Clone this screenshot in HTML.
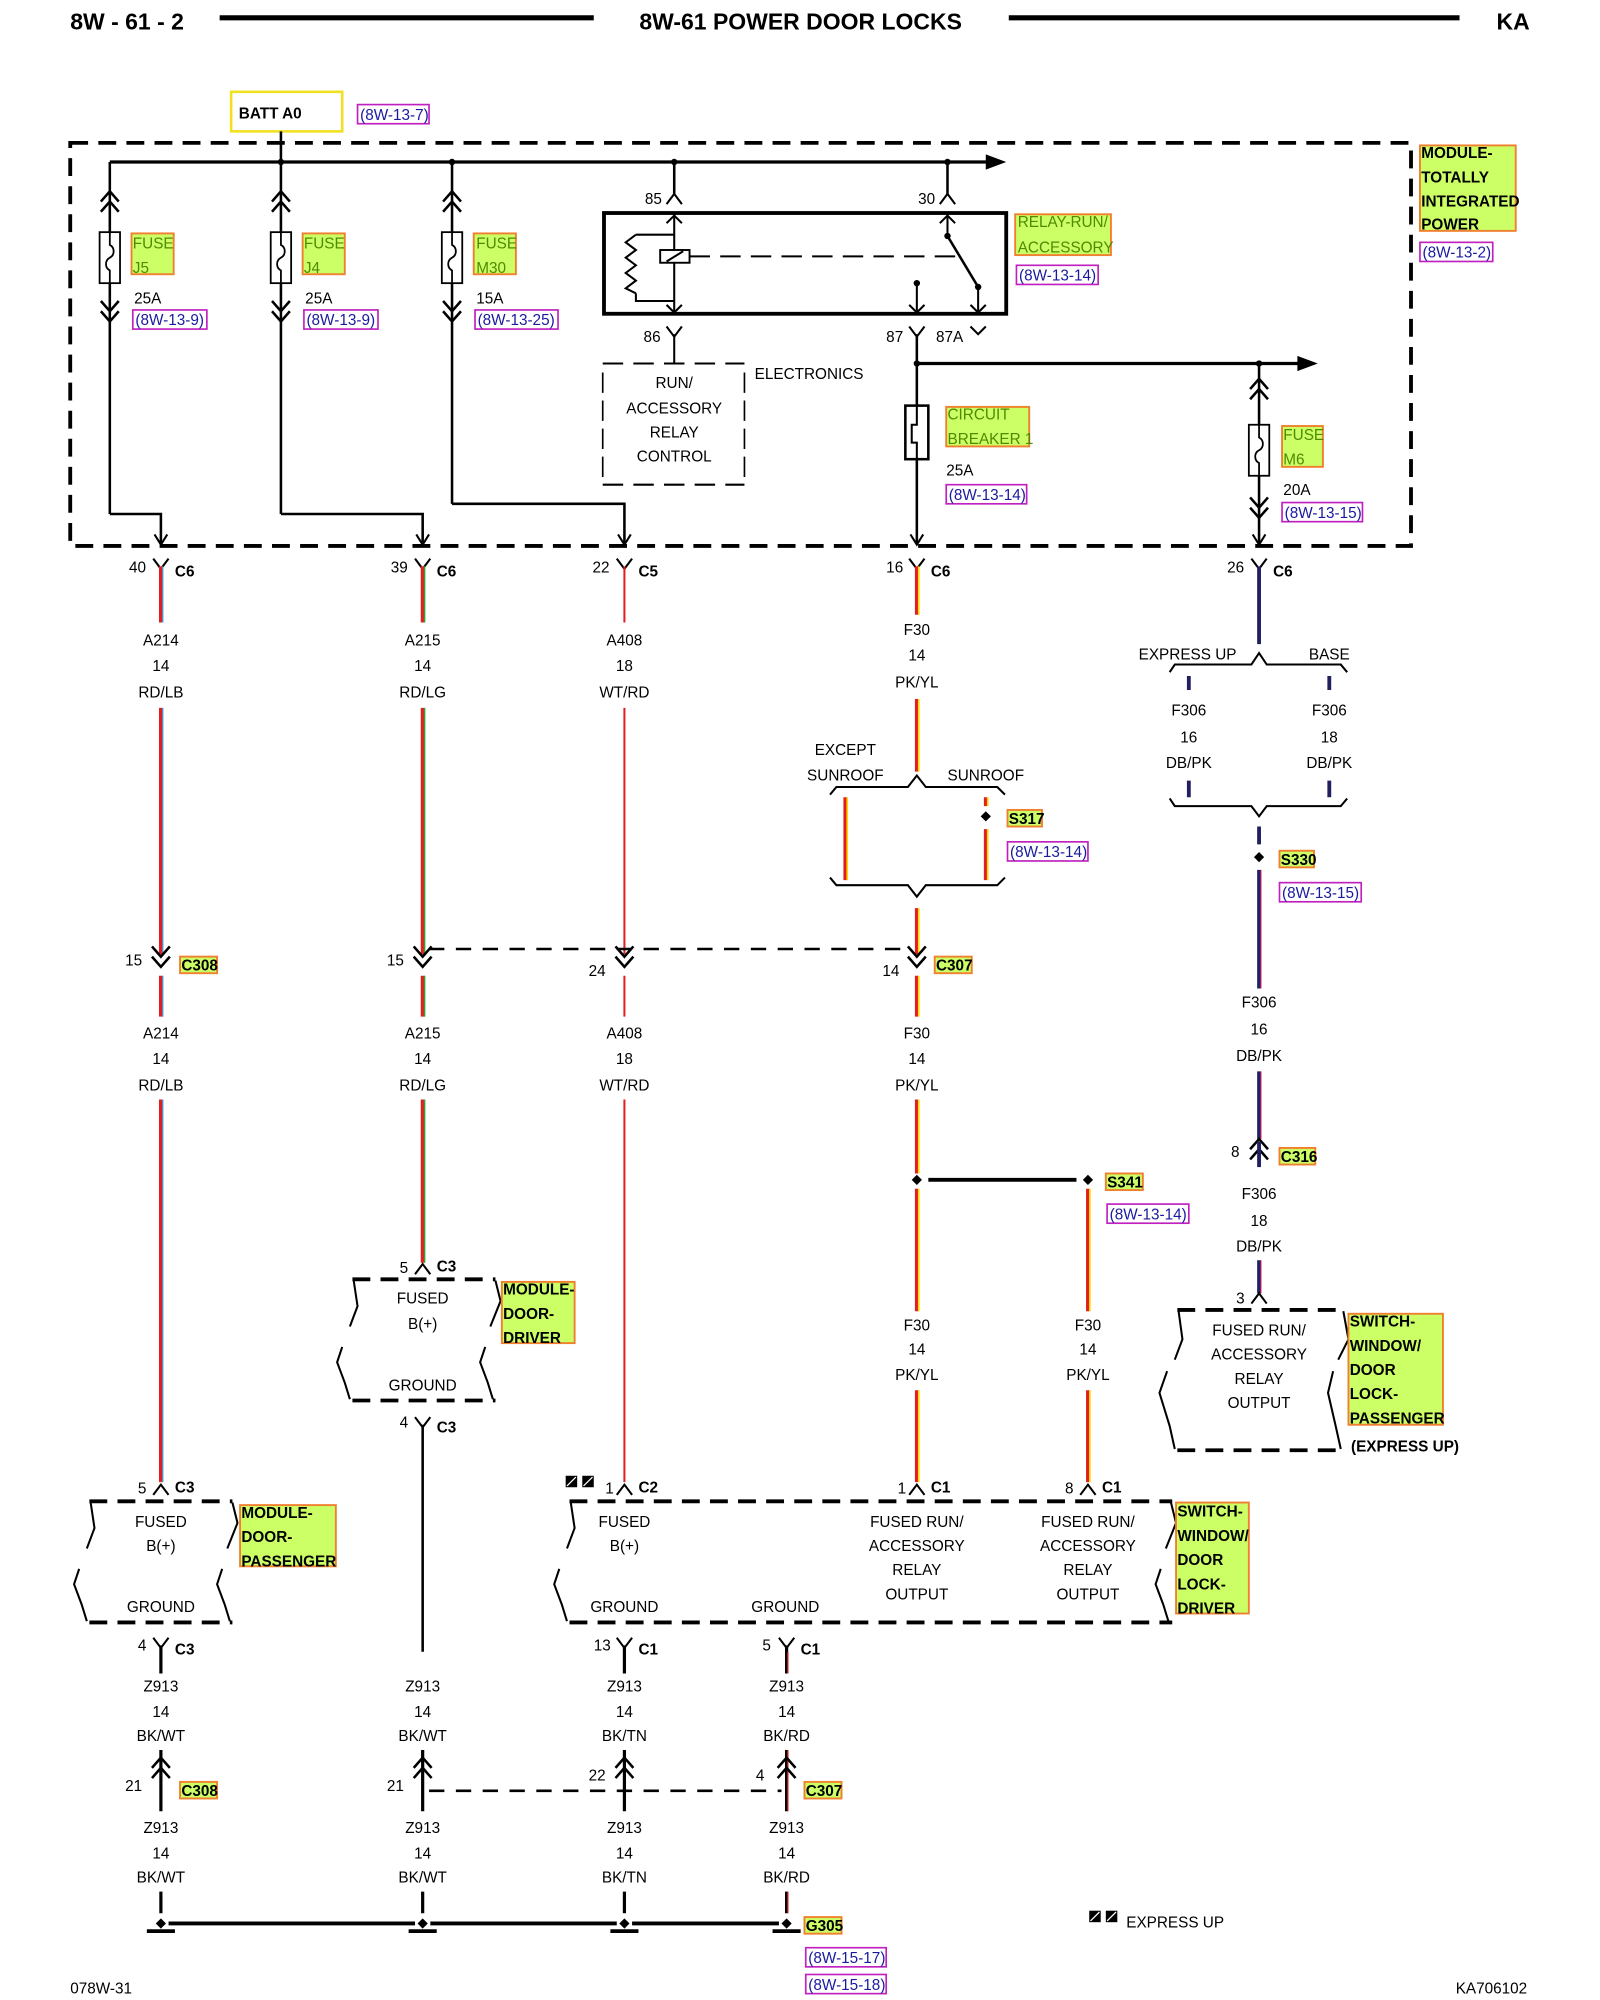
<!DOCTYPE html>
<html><head><meta charset="utf-8"><style>
html,body{margin:0;padding:0;background:#fff}
svg{display:block}
text{font-family:"Liberation Sans",Arial,sans-serif;font-size:12px;fill:#000}
.c{text-anchor:middle}
.b{font-weight:bold}
.h{font-weight:bold;font-size:18px}
.lb{font-weight:bold;font-size:12px}
.ref{fill:#1a1aa0;font-size:12px}
.fl{fill:#4f8a00;font-size:12px}
.w{stroke:#000;stroke-width:2;fill:none}
.t{stroke:#000;stroke-width:1.6;fill:none}
.d{stroke:#000;stroke-width:3;fill:none;stroke-dasharray:14 8}
.ds{stroke:#000;stroke-width:1.6;fill:none;stroke-dasharray:16 8}
.hl{fill:#ccff66;stroke:#f08030;stroke-width:1.5}
.rb{fill:none;stroke:#c020c0;stroke-width:1.3}
</style></head><body>
<svg width="1600" height="2000" viewBox="0 0 1253 1568" preserveAspectRatio="none" xmlns="http://www.w3.org/2000/svg">
<defs>
<path id="Y" d="M-6,-6 L0,2 L6,-6" stroke="#000" stroke-width="1.6" fill="none"/>
<path id="car" d="M-6,6 L0,-2 L6,6" stroke="#000" stroke-width="1.6" fill="none"/>
<g id="vv" stroke="#000" stroke-width="2" fill="none"><path d="M-7,-10 L0,-2 L7,-10"/><path d="M-7,-2 L0,6 L7,-2"/></g>
<g id="uu" stroke="#000" stroke-width="2" fill="none"><path d="M-7,-2 L0,-10 L7,-2"/><path d="M-7,6 L0,-2 L7,6"/></g>
<g id="fu"><rect x="-8" y="0" width="16" height="40" fill="#fff" stroke="#000" stroke-width="1.4"/><path d="M0,0 L0,10 C4,12 4,18 0,20 C-4,22 -4,28 0,30 L0,40" stroke="#000" stroke-width="1.4" fill="none"/></g>
<path id="dia" d="M0,-4 L4,0 L0,4 L-4,0Z" fill="#000"/>
</defs>

<!-- header -->
<text x="55" y="23" class="h">8W - 61 - 2</text>
<line x1="172" y1="14" x2="465" y2="14" stroke="#000" stroke-width="4"/>
<text x="627" y="23" class="h c">8W-61 POWER DOOR LOCKS</text>
<line x1="790" y1="14" x2="1143" y2="14" stroke="#000" stroke-width="4"/>
<text x="1172" y="23" class="h">KA</text>

<!-- BATT -->
<rect x="181" y="72" width="87" height="31" fill="#fff" stroke="#f0e020" stroke-width="2"/>
<text x="187" y="93" class="lb">BATT A0</text>
<rect x="280" y="82" width="56" height="15" class="rb"/><text x="282" y="94" class="ref">(8W-13-7)</text>

<!-- main dashed box -->
<rect x="55" y="112" width="1050" height="316" class="d"/>
<line x1="220" y1="103" x2="220" y2="127" class="w"/>
<line x1="86" y1="127" x2="775" y2="127" stroke="#000" stroke-width="2.5"/>
<path d="M772,121 L788,127 L772,133Z" fill="#000"/>
<g fill="#000"><circle cx="220" cy="127" r="2.5"/><circle cx="354" cy="127" r="2.5"/><circle cx="528" cy="127" r="2.5"/><circle cx="742" cy="127" r="2.5"/></g>

<!-- fuses -->
<g>
<line x1="86" y1="127" x2="86" y2="403" class="w"/><use href="#uu" x="86" y="160"/><use href="#fu" x="86" y="182"/><use href="#vv" x="86" y="246"/>
<path d="M86,403 H126 V426" class="w"/><path d="M121,419 L126,427 L131,419" class="t"/>
<rect x="103" y="183" width="33" height="32" class="hl"/><text x="104" y="195" class="fl">FUSE</text><text x="104" y="214" class="fl">J5</text>
<text x="105" y="238">25A</text><rect x="104" y="243" width="58" height="15" class="rb"/><text x="106" y="255" class="ref">(8W-13-9)</text>

<line x1="220" y1="127" x2="220" y2="403" class="w"/><use href="#uu" x="220" y="160"/><use href="#fu" x="220" y="182"/><use href="#vv" x="220" y="246"/>
<path d="M220,403 H331 V426" class="w"/><path d="M326,419 L331,427 L336,419" class="t"/>
<rect x="237" y="183" width="33" height="32" class="hl"/><text x="238" y="195" class="fl">FUSE</text><text x="238" y="214" class="fl">J4</text>
<text x="239" y="238">25A</text><rect x="238" y="243" width="58" height="15" class="rb"/><text x="240" y="255" class="ref">(8W-13-9)</text>

<line x1="354" y1="127" x2="354" y2="395" class="w"/><use href="#uu" x="354" y="160"/><use href="#fu" x="354" y="182"/><use href="#vv" x="354" y="246"/>
<path d="M354,395 H489 V426" class="w"/><path d="M484,419 L489,427 L494,419" class="t"/>
<rect x="371" y="183" width="33" height="32" class="hl"/><text x="373" y="195" class="fl">FUSE</text><text x="373" y="214" class="fl">M30</text>
<text x="373" y="238">15A</text><rect x="372" y="243" width="65" height="15" class="rb"/><text x="374" y="255" class="ref">(8W-13-25)</text>
</g>

<!-- relay -->
<line x1="528" y1="127" x2="528" y2="152" class="w"/><use href="#car" x="528" y="154"/><text x="505" y="160">85</text>
<line x1="742" y1="127" x2="742" y2="152" class="w"/><use href="#car" x="742" y="154"/><text x="719" y="160">30</text>
<rect x="473" y="167" width="315" height="79" fill="none" stroke="#000" stroke-width="3"/>
<line x1="528" y1="168" x2="528" y2="245" class="t"/>
<path d="M528,184 H498 M498,184 L490,190 L498,196 L490,202 L498,208 L490,214 L498,220 L490,226 L498,230 M498,230 V236 H528" class="t"/>
<rect x="517" y="196" width="23" height="10" fill="#fff" stroke="#000" stroke-width="1.5"/><line x1="522" y1="205" x2="535" y2="197" class="t"/>
<line x1="540" y1="201" x2="752" y2="201" class="ds" stroke-dasharray="10 7"/>
<path d="M522,175 L528,169 L534,175 M522,239 L528,245 L534,239" class="t"/>
<line x1="742" y1="168" x2="742" y2="185" class="t"/><path d="M736,175 L742,169 L748,175" class="t"/>
<line x1="742" y1="185" x2="766" y2="225" class="w"/><circle cx="742" cy="185" r="2.5"/><circle cx="766" cy="225" r="2.5"/>
<line x1="766" y1="225" x2="766" y2="245" class="t"/><path d="M760,239 L766,245 L772,239" class="t"/>
<line x1="718" y1="222" x2="718" y2="245" class="t"/><circle cx="718" cy="222" r="2.5"/><path d="M712,239 L718,245 L724,239" class="t"/>
<rect x="795" y="168" width="75" height="32" class="hl"/><text x="797" y="178" class="fl">RELAY-RUN/</text><text x="797" y="198" class="fl">ACCESSORY</text>
<rect x="796" y="208" width="64" height="15" class="rb"/><text x="798" y="220" class="ref">(8W-13-14)</text>

<use href="#Y" x="528" y="262"/><line x1="528" y1="262" x2="528" y2="285" class="t"/><text x="504" y="268">86</text>
<use href="#Y" x="718" y="262"/><text x="694" y="268">87</text>
<path d="M760,256 L766,262 L772,256" class="t"/><text x="733" y="268">87A</text>
<!-- run acc control -->
<path d="M472,285 H583 M472,380 H583" class="ds"/>
<path d="M472,292 V375 M583,292 V375" stroke="#000" stroke-width="1.3" stroke-dasharray="16 6" fill="none"/>
<text x="528" y="304" class="c">RUN/</text><text x="528" y="324" class="c">ACCESSORY</text><text x="528" y="343" class="c">RELAY</text><text x="528" y="362" class="c">CONTROL</text>
<text x="591" y="297">ELECTRONICS</text>

<!-- 87 line -->
<line x1="718" y1="262" x2="718" y2="426" class="w"/><path d="M713,419 L718,427 L723,419" class="t"/>
<line x1="718" y1="285" x2="1020" y2="285" stroke="#000" stroke-width="2.5"/><path d="M1016,279 L1032,285 L1016,291Z" fill="#000"/>
<circle cx="718" cy="285" r="2.5"/><circle cx="986" cy="285" r="2.5"/>
<rect x="709" y="318" width="18" height="42" fill="#fff" stroke="#000" stroke-width="2"/><path d="M718,318 V333 H714 V347 H718 V360" class="t"/>
<rect x="741" y="319" width="65" height="31" class="hl"/><text x="742" y="329" class="fl">CIRCUIT</text><text x="742" y="348" class="fl">BREAKER 1</text>
<text x="741" y="373">25A</text><rect x="741" y="380" width="63" height="15" class="rb"/><text x="743" y="392" class="ref">(8W-13-14)</text>
<!-- M6 -->
<line x1="986" y1="285" x2="986" y2="426" class="w"/><use href="#uu" x="986" y="307"/><use href="#fu" x="986" y="333"/><use href="#vv" x="986" y="400"/><path d="M981,419 L986,427 L991,419" class="t"/>
<rect x="1004" y="334" width="32" height="32" class="hl"/><text x="1005" y="345" class="fl">FUSE</text><text x="1005" y="364" class="fl">M6</text>
<text x="1005" y="388">20A</text><rect x="1004" y="394" width="63" height="15" class="rb"/><text x="1006" y="406" class="ref">(8W-13-15)</text>
<!-- module label -->
<rect x="1112" y="114" width="75" height="67" class="hl"/>
<text x="1113" y="124" class="lb">MODULE-</text><text x="1113" y="143" class="lb">TOTALLY</text><text x="1113" y="162" class="lb">INTEGRATED</text><text x="1113" y="180" class="lb">POWER</text>
<rect x="1112" y="190" width="57" height="15" class="rb"/><text x="1114" y="202" class="ref">(8W-13-2)</text>

<!-- C6/C5 connectors -->
<g>
<use href="#Y" x="126" y="444"/><text x="101" y="449">40</text><text x="137" y="452" class="lb">C6</text>
<use href="#Y" x="331" y="444"/><text x="306" y="449">39</text><text x="342" y="452" class="lb">C6</text>
<use href="#Y" x="489" y="444"/><text x="464" y="449">22</text><text x="500" y="452" class="lb">C5</text>
<use href="#Y" x="718" y="444"/><text x="694" y="449">16</text><text x="729" y="452" class="lb">C6</text>
<use href="#Y" x="986" y="444"/><text x="961" y="449">26</text><text x="997" y="452" class="lb">C6</text>
</g>

<!-- wires -->
<g stroke-width="3" fill="none">
<path d="M126,444 V488 M126,555 V748 M126,765 V797 M126,862 V1162" stroke="#e02020"/>
<path d="M127.5,444 V488 M127.5,555 V748 M127.5,765 V797 M127.5,862 V1162" stroke="#40a0e0" stroke-width="1"/>
<path d="M331,444 V488 M331,555 V748 M331,765 V797 M331,862 V990" stroke="#e02020"/>
<path d="M332.5,444 V488 M332.5,555 V748 M332.5,765 V797 M332.5,862 V990" stroke="#30a030" stroke-width="1.2"/>
<path d="M489,444 V488 M489,555 V748 M489,765 V797 M489,862 V1162" stroke="#e02020" stroke-width="1.6"/>
<path d="M718,444 V482 M718,548 V605 M718,712 V748 M718,765 V797 M718,862 V920 M718,932 V1028 M718,1090 V1162" stroke="#e02020"/>
<path d="M719.5,444 V482 M719.5,548 V605 M719.5,712 V748 M719.5,765 V797 M719.5,862 V920 M719.5,932 V1028 M719.5,1090 V1162" stroke="#ffd800" stroke-width="1.3"/>
<path d="M852,932 V1028 M852,1090 V1162" stroke="#e02020"/>
<path d="M853.5,932 V1028 M853.5,1090 V1162" stroke="#ffd800" stroke-width="1.3"/>
<path d="M662,625 V690 M772,625 V632 M772,650 V690" stroke="#e02020"/>
<path d="M663.5,625 V690 M773.5,625 V632 M773.5,650 V690" stroke="#ffd800" stroke-width="1.3"/>
<path d="M986,444 V505 M931,530 V541 M1041,530 V541 M931,612 V625 M1041,612 V625 M986,648 V662 M986,682 V775 M986,840 V893 M986,988 V1014" stroke="#202060"/>
<path d="M987.5,682 V775 M987.5,840 V893 M987.5,988 V1014" stroke="#e02060" stroke-width="0.8"/>
</g>

<!-- wire labels upper -->
<g>
<text x="126" y="506" class="c">A214</text><text x="126" y="526" class="c">14</text><text x="126" y="547" class="c">RD/LB</text>
<text x="331" y="506" class="c">A215</text><text x="331" y="526" class="c">14</text><text x="331" y="547" class="c">RD/LG</text>
<text x="489" y="506" class="c">A408</text><text x="489" y="526" class="c">18</text><text x="489" y="547" class="c">WT/RD</text>
<text x="718" y="498" class="c">F30</text><text x="718" y="518" class="c">14</text><text x="718" y="539" class="c">PK/YL</text>
<text x="126" y="814" class="c">A214</text><text x="126" y="834" class="c">14</text><text x="126" y="855" class="c">RD/LB</text>
<text x="331" y="814" class="c">A215</text><text x="331" y="834" class="c">14</text><text x="331" y="855" class="c">RD/LG</text>
<text x="489" y="814" class="c">A408</text><text x="489" y="834" class="c">18</text><text x="489" y="855" class="c">WT/RD</text>
<text x="718" y="814" class="c">F30</text><text x="718" y="834" class="c">14</text><text x="718" y="855" class="c">PK/YL</text>
</g>

<!-- sunroof brace -->
<text x="662" y="592" class="c">EXCEPT</text><text x="662" y="612" class="c">SUNROOF</text><text x="772" y="612" class="c">SUNROOF</text>
<path d="M650,623 L655,617 H711 L718,608 L725,617 H781 L787,623" class="t"/>
<path d="M650,688 L655,694 H711 L718,703 L725,694 H781 L787,688" class="t"/>
<use href="#dia" x="772" y="640"/>
<rect x="789" y="635" width="27" height="13" class="hl"/><text x="790" y="646" class="lb">S317</text>
<rect x="789" y="660" width="63" height="15" class="rb"/><text x="791" y="672" class="ref">(8W-13-14)</text>

<!-- express up brace -->
<text x="930" y="517" class="c">EXPRESS UP</text><text x="1041" y="517" class="c">BASE</text>
<path d="M916,527 L920,521 H980 L986,512 L992,521 H1050 L1055,527" class="t"/>
<text x="931" y="561" class="c">F306</text><text x="931" y="582" class="c">16</text><text x="931" y="602" class="c">DB/PK</text>
<text x="1041" y="561" class="c">F306</text><text x="1041" y="582" class="c">18</text><text x="1041" y="602" class="c">DB/PK</text>
<path d="M916,626 L920,632 H980 L986,640 L992,632 H1050 L1055,626" class="t"/>
<use href="#dia" x="986" y="672"/>
<rect x="1002" y="667" width="27" height="13" class="hl"/><text x="1003" y="678" class="lb">S330</text>
<rect x="1002" y="692" width="64" height="15" class="rb"/><text x="1004" y="704" class="ref">(8W-13-15)</text>
<text x="986" y="790" class="c">F306</text><text x="986" y="811" class="c">16</text><text x="986" y="832" class="c">DB/PK</text>
<use href="#uu" x="986" y="903"/><line x1="986" y1="895" x2="986" y2="915" stroke="#202060" stroke-width="3"/><text x="964" y="907">8</text>
<rect x="1002" y="900" width="28" height="13" class="hl"/><text x="1003" y="911" class="lb">C316</text>
<text x="986" y="940" class="c">F306</text><text x="986" y="961" class="c">18</text><text x="986" y="981" class="c">DB/PK</text>
<use href="#car" x="986" y="1016"/><text x="968" y="1022">3</text>

<!-- C308 / C307 upper -->
<use href="#vv" x="126" y="752"/><text x="98" y="757">15</text>
<rect x="141" y="750" width="29" height="13" class="hl"/><text x="142" y="761" class="lb">C308</text>
<use href="#vv" x="331" y="752"/><text x="303" y="757">15</text>
<use href="#vv" x="489" y="752"/><text x="461" y="765">24</text>
<use href="#vv" x="718" y="752"/><text x="691" y="765">14</text>
<rect x="732" y="750" width="29" height="13" class="hl"/><text x="733" y="761" class="lb">C307</text>
<line x1="336" y1="744" x2="714" y2="744" stroke="#000" stroke-width="2" stroke-dasharray="12 9"/>

<!-- S341 -->
<use href="#dia" x="718" y="925"/><use href="#dia" x="852" y="925"/>
<line x1="727" y1="925" x2="843" y2="925" stroke="#000" stroke-width="3"/>
<rect x="866" y="920" width="29" height="13" class="hl"/><text x="867" y="931" class="lb">S341</text>
<rect x="867" y="944" width="64" height="15" class="rb"/><text x="869" y="956" class="ref">(8W-13-14)</text>
<text x="718" y="1043" class="c">F30</text><text x="718" y="1062" class="c">14</text><text x="718" y="1082" class="c">PK/YL</text>
<text x="852" y="1043" class="c">F30</text><text x="852" y="1062" class="c">14</text><text x="852" y="1082" class="c">PK/YL</text>

<!-- module door driver -->
<use href="#car" x="331" y="993"/><text x="313" y="998">5</text><text x="342" y="997" class="lb">C3</text>
<path d="M276,1003 H388 M276,1098 H388" class="d"/>
<path d="M277,1004 L280,1024 L274,1040 M268,1056 L264,1068 L270,1084 L274,1097 M388,1004 L392,1020 L384,1040 M380,1056 L376,1068 L382,1084 L386,1097" class="t"/>
<text x="331" y="1022" class="c">FUSED</text><text x="331" y="1042" class="c">B(+)</text><text x="331" y="1090" class="c">GROUND</text>
<rect x="393" y="1005" width="57" height="48" class="hl"/><text x="394" y="1015" class="lb">MODULE-</text><text x="394" y="1034" class="lb">DOOR-</text><text x="394" y="1053" class="lb">DRIVER</text>
<use href="#Y" x="331" y="1117"/><text x="313" y="1119">4</text><text x="342" y="1123" class="lb">C3</text>
<line x1="331" y1="1117" x2="331" y2="1295" class="w"/>

<!-- switch window door lock passenger -->
<path d="M922,1027 H1052 M922,1137 H1052" class="d"/>
<path d="M923,1028 L926,1050 L920,1066 M914,1075 L908,1092 L916,1118 L920,1136 M1052,1028 L1056,1050 L1048,1066 M1044,1075 L1040,1092 L1046,1118 L1050,1136" class="t"/>
<text x="986" y="1047" class="c">FUSED RUN/</text><text x="986" y="1066" class="c">ACCESSORY</text><text x="986" y="1085" class="c">RELAY</text><text x="986" y="1104" class="c">OUTPUT</text>
<rect x="1056" y="1030" width="74" height="87" class="hl"/>
<text x="1057" y="1040" class="lb">SWITCH-</text><text x="1057" y="1059" class="lb">WINDOW/</text><text x="1057" y="1078" class="lb">DOOR</text><text x="1057" y="1097" class="lb">LOCK-</text><text x="1057" y="1116" class="lb">PASSENGER</text>
<text x="1058" y="1138" class="lb">(EXPRESS UP)</text>

<!-- module door passenger -->
<use href="#car" x="126" y="1166"/><text x="108" y="1171">5</text><text x="137" y="1170" class="lb">C3</text>
<path d="M70,1177 H182 M70,1272 H182" class="d"/>
<path d="M71,1178 L74,1198 L68,1214 M62,1230 L58,1242 L64,1258 L68,1271 M182,1178 L186,1194 L178,1214 M174,1230 L170,1242 L176,1258 L180,1271" class="t"/>
<text x="126" y="1197" class="c">FUSED</text><text x="126" y="1216" class="c">B(+)</text><text x="126" y="1264" class="c">GROUND</text>
<rect x="188" y="1180" width="75" height="48" class="hl"/><text x="189" y="1190" class="lb">MODULE-</text><text x="189" y="1209" class="lb">DOOR-</text><text x="189" y="1228" class="lb">PASSENGER</text>

<!-- switch window door lock driver -->
<rect x="443" y="1157" width="9" height="9" fill="#000"/><rect x="456" y="1157" width="9" height="9" fill="#000"/>
<path d="M444,1165 L451,1158 M457,1165 L464,1158" stroke="#fff" stroke-width="1"/>
<use href="#car" x="489" y="1166"/><text x="474" y="1171">1</text><text x="500" y="1170" class="lb">C2</text>
<use href="#car" x="718" y="1166"/><text x="703" y="1171">1</text><text x="729" y="1170" class="lb">C1</text>
<use href="#car" x="852" y="1166"/><text x="834" y="1171">8</text><text x="863" y="1170" class="lb">C1</text>
<path d="M446,1177 H918 M446,1272 H918" class="d"/>
<path d="M447,1178 L450,1198 L444,1214 M438,1230 L434,1242 L440,1258 L444,1271 M917,1178 L921,1194 L913,1214 M909,1230 L905,1242 L911,1258 L915,1271" class="t"/>
<text x="489" y="1197" class="c">FUSED</text><text x="489" y="1216" class="c">B(+)</text><text x="489" y="1264" class="c">GROUND</text><text x="615" y="1264" class="c">GROUND</text>
<text x="718" y="1197" class="c">FUSED RUN/</text><text x="718" y="1216" class="c">ACCESSORY</text><text x="718" y="1235" class="c">RELAY</text><text x="718" y="1254" class="c">OUTPUT</text>
<text x="852" y="1197" class="c">FUSED RUN/</text><text x="852" y="1216" class="c">ACCESSORY</text><text x="852" y="1235" class="c">RELAY</text><text x="852" y="1254" class="c">OUTPUT</text>
<rect x="921" y="1178" width="57" height="87" class="hl"/>
<text x="922" y="1189" class="lb">SWITCH-</text><text x="922" y="1208" class="lb">WINDOW/</text><text x="922" y="1227" class="lb">DOOR</text><text x="922" y="1246" class="lb">LOCK-</text><text x="922" y="1265" class="lb">DRIVER</text>

<!-- ground section -->
<use href="#Y" x="126" y="1290"/><text x="108" y="1294">4</text><text x="137" y="1297" class="lb">C3</text>
<use href="#Y" x="489" y="1290"/><text x="465" y="1294">13</text><text x="500" y="1297" class="lb">C1</text>
<use href="#Y" x="616" y="1290"/><text x="597" y="1294">5</text><text x="627" y="1297" class="lb">C1</text>
<path d="M126,1290 V1312 M489,1290 V1312 M126,1372 V1420 M331,1372 V1420 M489,1372 V1420 M126,1483 V1500 M331,1483 V1500 M489,1483 V1500" stroke="#000" stroke-width="2.5"/>
<path d="M616,1290 V1312 M616,1372 V1420 M616,1483 V1500" stroke="#000" stroke-width="2.5"/>
<path d="M617,1295 V1312 M617,1372 V1420 M617,1483 V1500" stroke="#d02020" stroke-width="1"/>
<g>
<text x="126" y="1326" class="c">Z913</text><text x="126" y="1346" class="c">14</text><text x="126" y="1365" class="c">BK/WT</text>
<text x="331" y="1326" class="c">Z913</text><text x="331" y="1346" class="c">14</text><text x="331" y="1365" class="c">BK/WT</text>
<text x="489" y="1326" class="c">Z913</text><text x="489" y="1346" class="c">14</text><text x="489" y="1365" class="c">BK/TN</text>
<text x="616" y="1326" class="c">Z913</text><text x="616" y="1346" class="c">14</text><text x="616" y="1365" class="c">BK/RD</text>
<text x="126" y="1437" class="c">Z913</text><text x="126" y="1457" class="c">14</text><text x="126" y="1476" class="c">BK/WT</text>
<text x="331" y="1437" class="c">Z913</text><text x="331" y="1457" class="c">14</text><text x="331" y="1476" class="c">BK/WT</text>
<text x="489" y="1437" class="c">Z913</text><text x="489" y="1457" class="c">14</text><text x="489" y="1476" class="c">BK/TN</text>
<text x="616" y="1437" class="c">Z913</text><text x="616" y="1457" class="c">14</text><text x="616" y="1476" class="c">BK/RD</text>
</g>
<use href="#uu" x="126" y="1388"/><text x="98" y="1404">21</text>
<rect x="141" y="1397" width="29" height="13" class="hl"/><text x="142" y="1408" class="lb">C308</text>
<use href="#uu" x="331" y="1388"/><text x="303" y="1404">21</text>
<use href="#uu" x="489" y="1388"/><text x="461" y="1396">22</text>
<use href="#uu" x="616" y="1388"/><text x="592" y="1396">4</text>
<rect x="630" y="1397" width="29" height="13" class="hl"/><text x="631" y="1408" class="lb">C307</text>
<line x1="336" y1="1404" x2="612" y2="1404" stroke="#000" stroke-width="2" stroke-dasharray="12 9"/>

<!-- G305 -->
<g>
<use href="#dia" x="126" y="1508"/><use href="#dia" x="331" y="1508"/><use href="#dia" x="489" y="1508"/><use href="#dia" x="616" y="1508"/>
<path d="M132,1508 H325 M337,1508 H483 M495,1508 H610" stroke="#000" stroke-width="3"/>
<path d="M115,1514 H137 M320,1514 H342 M478,1514 H500 M605,1514 H627" stroke="#000" stroke-width="3"/>
</g>
<rect x="630" y="1503" width="29" height="13" class="hl"/><text x="631" y="1514" class="lb">G305</text>
<rect x="631" y="1527" width="63" height="15" class="rb"/><text x="633" y="1539" class="ref">(8W-15-17)</text>
<rect x="631" y="1548" width="63" height="15" class="rb"/><text x="633" y="1560" class="ref">(8W-15-18)</text>

<rect x="853" y="1498" width="9" height="9" fill="#000"/><rect x="866" y="1498" width="9" height="9" fill="#000"/>
<path d="M854,1506 L861,1499 M867,1506 L874,1499" stroke="#fff" stroke-width="1"/>
<text x="882" y="1511">EXPRESS UP</text>

<text x="55" y="1563">078W-31</text>
<text x="1140" y="1563">KA706102</text>
</svg>
</body></html>
